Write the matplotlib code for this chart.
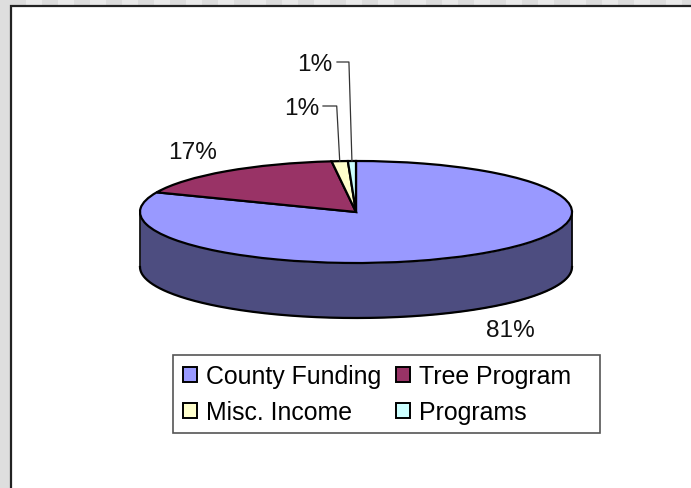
import numpy as np
import matplotlib
matplotlib.use("Agg")
import matplotlib.pyplot as plt
from matplotlib.patches import Rectangle

plt.rcParams['font.family'] = ['Liberation Sans', 'DejaVu Sans']

categories = ["County Funding", "Tree Program", "Misc. Income", "Programs"]
values = [81.3, 16.9, 1.2, 0.6]
pct_labels = ["81%", "17%", "1%", "1%"]
colors = ["#9999ff", "#993366", "#ffffcc", "#ccffff"]
wall_color = "#4d4d80"

W, H = 691, 489
CX, CY, RX, RY, DEPTH = 356, 213, 216, 51, 55


def px(x, y):
    return ((x - CX) / RX, (CY - y) / RY)


fig = plt.figure(figsize=(W / 100, H / 100), dpi=100, facecolor="#e0e0e0")

# patterned window background
bg = fig.add_axes([0, 0, 1, 1], zorder=0)
bg.set_xlim(0, W)
bg.set_ylim(H, 0)
bg.axis("off")
for i, x0 in enumerate(range(-6, W, 16)):
    bg.add_patch(Rectangle((x0, 0), 16, 6.5, fc="#dcdcdc" if i % 2 else "#e9e9e9", ec="none"))
bg.add_patch(Rectangle((0, 0), 10, H, fc="#dedede", ec="none"))
bg.add_patch(Rectangle((11, 7), W + 10, H + 10, fc="white", ec="#222222", lw=1.6))

ax = fig.add_axes([0, 0, 1, 1], zorder=1)
ax.patch.set_alpha(0)
wedges, _ = ax.pie(values, colors=colors, startangle=90, counterclock=False,
                   radius=1, center=(0, 0),
                   wedgeprops=dict(edgecolor="black", linewidth=1.6, zorder=3))
ax.set_aspect("auto")
ax.set_xlim(px(0, 0)[0], px(W, 0)[0])
ax.set_ylim(px(0, H)[1], px(0, 0)[1])
ax.axis("off")

# side wall of the cylinder
t = np.linspace(np.pi, 2 * np.pi, 300)
d = DEPTH / RY
ax.fill_between(np.cos(t), np.sin(t) - d, np.sin(t), color=wall_color, zorder=2, lw=0)
ax.plot(np.cos(t), np.sin(t) - d, color="black", lw=1.6, zorder=2.5)
ax.plot([-1, -1], [0, -d], color="black", lw=1.2, zorder=2.5)
ax.plot([1, 1], [0, -d], color="black", lw=1.2, zorder=2.5)

# percentage labels
fs = 17.6
label_pos = [(510, 331), (193, 153), (302, 109), (315, 65)]
for lab, (x, y) in zip(pct_labels, label_pos):
    ax.text(*px(x, y), lab, fontsize=fs, ha="center", va="center", color="#111111", zorder=5)

# leader lines for the two small slices
fracs = np.cumsum(values) / np.sum(values)
mids = 90 - 360 * (fracs - np.array(values) / np.sum(values) / 2)
for idx, (x0, y0) in zip([2, 3], [(323, 107), (337, 63)]):
    a = np.deg2rad(mids[idx])
    ex, ey = np.cos(a), np.sin(a)
    sx, sy = px(x0, y0)
    ex0 = ex - 3 / RX
    ax.plot([sx, ex0, ex], [sy, sy, ey], color="#333333", lw=0.9, zorder=4)

# legend (filled column by column, so the order reads across the rows)
order = [0, 2, 1, 3]
ax.add_patch(Rectangle(px(173, 434), 427 / RX, 78 / RY, fc="white", ec="#555555", lw=1.2, zorder=4))
leg = ax.legend([wedges[i] for i in order], [categories[i] for i in order],
                ncol=2, frameon=False, fontsize=17.9,
                loc="upper left", bbox_to_anchor=(183 / W, 1 - 365 / H),
                borderaxespad=0, borderpad=0, handlelength=0.57, handleheight=0.57,
                handletextpad=0.36, columnspacing=0.6, labelspacing=0.5)
leg.set_zorder(6)
for h in leg.get_patches():
    h.set_linewidth(1.4)

fig.savefig("out.png", dpi=100, facecolor=fig.get_facecolor())
